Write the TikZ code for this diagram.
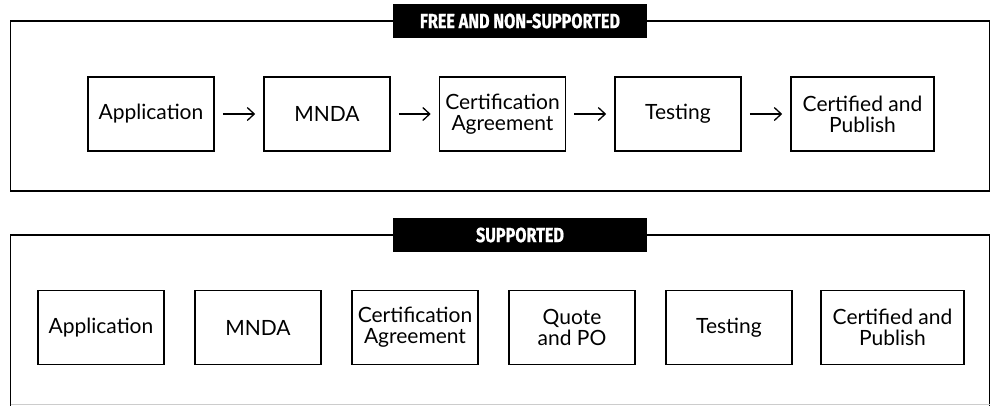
\documentclass[tikz,border=0pt]{standalone}
\usepackage{fontspec}
\setmainfont{Lato}
\newfontfamily\tabfont[FakeStretch=0.79,FakeBold=0.8]{Fira Sans}
\usetikzlibrary{arrows.meta}

\begin{document}
\begin{tikzpicture}[
  x=1pt, y=-1pt,
  stepbox/.style={draw, line width=1.6pt, minimum width=126pt, minimum height=74pt,
    inner sep=0pt, align=center, font=\fontsize{21}{21}\selectfont},
  widebox/.style={stepbox, minimum width=143pt},
  frame/.style={draw, line width=1.6pt},
  tab/.style={fill=black, text=white, minimum width=254pt, minimum height=34pt,
    inner sep=0pt, font=\tabfont\bfseries\fontsize{20.5}{20.5}\selectfont},
  flow/.style={line width=1.3pt, -{Straight Barb[length=7pt,width=13pt,line width=1.3pt]},
    shorten <=8pt, shorten >=8pt},
]
\useasboundingbox (0,0) rectangle (996,405);

% Free and non-supported track
\draw[frame] (10.5,21) rectangle (989.5,191);
\node[tab] (freetab) at (520,21) {FREE AND NON-SUPPORTED};

\node[stepbox] (app)  at (151,114)   {Application};
\node[stepbox] (mnda) at (327,114)   {MNDA};
\node[stepbox] (cert) at (502.5,114) {Certification\\Agreement};
\node[stepbox] (test) at (678,114)   {Testing};
\node[widebox] (pub)  at (862.5,114) {Certified and\\Publish};

\draw[flow] (app)  -- (mnda);
\draw[flow] (mnda) -- (cert);
\draw[flow] (cert) -- (test);
\draw[flow] (test) -- (pub);

% Supported track (frame runs off the bottom edge)
\draw[frame] (10.5,406) |- (989.5,235) -- (989.5,406);
\draw[line width=1.6pt, black!20] (10.5,404.5) -- (989.5,404.5);
\node[tab] (suptab) at (520,235) {SUPPORTED};

\node[stepbox] (sapp)   at (101,327.5)   {Application};
\node[stepbox] (smnda)  at (258,327.5)   {MNDA};
\node[stepbox] (scert)  at (415,327.5)   {Certification\\Agreement};
\node[stepbox] (squote) at (572,327.5)   {Quote\\and PO};
\node[stepbox] (stest)  at (729,327.5)   {Testing};
\node[widebox] (spub)   at (892.5,327.5) {Certified and\\Publish};
\end{tikzpicture}
\end{document}
